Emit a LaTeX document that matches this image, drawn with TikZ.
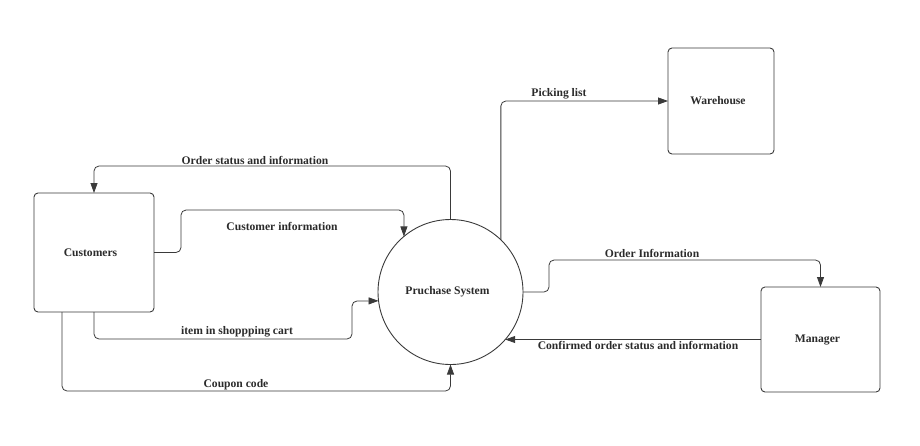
\documentclass[tikz,border=0pt]{standalone}
\usepackage{fontspec}
\setmainfont{Liberation Serif}
\usetikzlibrary{arrows.meta,calc}
\definecolor{ln}{HTML}{3A3A3A}
\definecolor{tx}{HTML}{2B2B2B}
\begin{document}
\begin{tikzpicture}[x=1pt,y=-1pt,
  entity/.style={draw=ln,line width=0.9pt,rounded corners=4pt,inner sep=0pt,outer sep=0pt,
    font=\fontsize{11.6}{13}\selectfont\bfseries,text=tx},
  proc/.style={draw=ln,line width=0.9pt,circle,minimum size=145pt,inner sep=0pt,outer sep=0pt,
    font=\fontsize{11.6}{13}\selectfont\bfseries,text=tx},
  flow/.style={draw=ln,line width=0.8pt,rounded corners=5pt,-{Triangle[length=10pt,width=7pt]}},
  lbl/.style={font=\fontsize{11.6}{13}\selectfont\bfseries,text=tx,inner sep=0pt}]
\useasboundingbox (0,0) rectangle (920,445);
\node[entity,minimum width=120pt,minimum height=119pt] (cust) at (94,252.5) {Customers\hspace*{7pt}};
\node[proc] (ps) at (450.5,292) {Pruchase System\hspace*{6pt}};
\node[entity,minimum width=106pt,minimum height=106pt] (wh) at (721,101) {Warehouse\hspace*{6pt}};
\node[entity,minimum width=119pt,minimum height=105pt] (mg) at (820.5,339.5) {Manager\hspace*{6pt}};
% flows
\draw[flow] (ps.north) -- (ps.north |- 0,166) -- (cust.north |- 0,166) -- (cust.north);
\draw[flow] (cust.east) -- (181,252.5) -- (181,210) -- (ps.130 |- 0,210) -- (ps.130);
\draw[flow] (cust.south) -- (cust.south |- 0,339) -- (352,339) -- (352,301) -- (ps.187);
\draw[flow] ([xshift=28pt]cust.south west) -- ([xshift=28pt]cust.south west |- 0,391) -- (ps.south |- 0,391) -- (ps.south);
\draw[flow] (ps.46) -- (ps.46 |- wh.west) -- (wh.west);
\draw[flow] (ps.east) -- (549,292) -- (549,260) -- (mg.north |- 0,260) -- (mg.north);
\draw[flow] (mg.west) -- (ps.-41 |- mg.west);
% labels
\node[lbl] (l1) at (255,160) {Order status and information};
\node[lbl] (l2) at (282,226) {Customer information};
\node[lbl] (l3) at (237,332) {item in shoppping cart};
\node[lbl] (l4) at (236,385) {Coupon code};
\node[lbl] (l5) at (559,94) {Picking list};
\node[lbl] (l6) at (652,253) {Order Information};
\node[lbl] (l7) at (638,345) {Confirmed order status and information};
\end{tikzpicture}
\end{document}
